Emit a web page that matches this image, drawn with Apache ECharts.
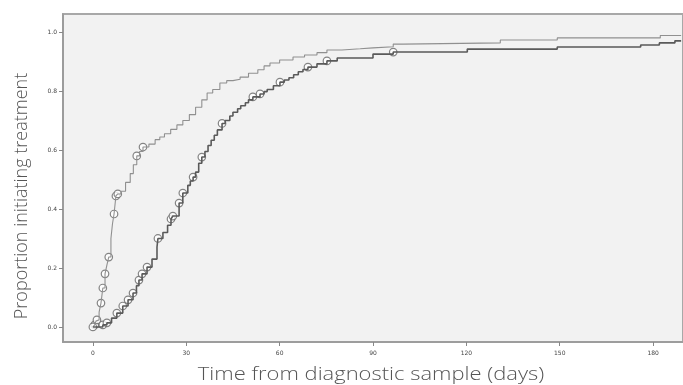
<!DOCTYPE html>
<html>
<head>
<meta charset="utf-8">
<script src="https://cdn.jsdelivr.net/npm/echarts@6/dist/echarts.min.js"></script>
<style>html,body{margin:0;padding:0;background:#fff}#c{width:683px;height:385px}</style>
</head>
<body>
<div id="c"></div>
<script>
// Tick labels
const xTicks = [0, 30, 60, 90, 120, 150, 180];
const yTicks = [0, 0.2, 0.4, 0.6, 0.8, 1.0];

// Upper (faster) curve: [day, proportion]
const fastCurve = [
  [0,0],[0.6,0.007],[1.0,0.02],[1.3,0.024],[2.0,0.05],[2.6,0.081],[3.2,0.132],[3.9,0.18],
  [4.5,0.21],[5.1,0.237],[5.8,0.30],[6.3,0.35],[6.8,0.383],[7.4,0.444],[8.0,0.451],[9.0,0.46],
  [10.5,0.49],[12,0.52],[13,0.55],[14.1,0.58],[15,0.595],[16.1,0.61],[18,0.62],[20,0.635],
  [21.5,0.644],[23,0.655],[25,0.67],[27,0.685],[28.9,0.70],[31,0.72],[33,0.745],[35,0.77],
  [36.7,0.793],[38.5,0.805],[40.8,0.827],[43,0.835],[45,0.84],[47.3,0.847],[50,0.86],
  [53,0.872],[55,0.885],[56.9,0.895],[60,0.905],[64.3,0.915],[68,0.922],[72,0.93],
  [75.2,0.939],[80,0.943],[85.9,0.946],[90,0.95],[96.5,0.959],[99.7,0.963],[130.9,0.973],
  [149.2,0.98],[182.3,0.988],[189,0.988]
];
// Lower (slower) curve
const slowCurve = [
  [0,0],[3.2,0.007],[4.5,0.014],[6,0.03],[7.7,0.047],[9.6,0.071],[11.3,0.092],[12.9,0.115],
  [14,0.14],[14.8,0.159],[15.8,0.18],[17.4,0.203],[19,0.23],[20.6,0.271],[20.9,0.30],
  [22.5,0.32],[24,0.345],[25.1,0.366],[25.7,0.376],[27.7,0.42],[28.9,0.454],[30.5,0.48],
  [31.3,0.495],[32.2,0.508],[33,0.525],[34,0.555],[35,0.576],[36,0.595],[37,0.615],
  [38,0.633],[39,0.65],[40,0.668],[41.5,0.69],[42.5,0.70],[44,0.715],[45,0.728],
  [46.5,0.74],[47.5,0.75],[49,0.76],[50,0.77],[51.4,0.78],[53.7,0.79],[55,0.798],[56,0.805],
  [58,0.818],[60.1,0.83],[61.5,0.837],[63,0.845],[64.5,0.855],[66,0.865],[67.5,0.873],
  [69.1,0.881],[72,0.892],[75.2,0.902],[78.5,0.912],[90,0.925],
  [96.5,0.932],[120.3,0.942],[149.2,0.949],[176,0.956],[182,0.963],[187,0.97],[189,0.97]
];
// Censoring marks
const fastCensor = [
  [0.6,0.007],[1.3,0.024],[2.6,0.081],[3.2,0.132],[3.9,0.18],[5.1,0.237],[6.8,0.383],
  [7.4,0.444],[8.0,0.451],[14.1,0.58],[16.1,0.61]
];
const slowCensor = [
  [0,0],[3.2,0.007],[4.5,0.014],[7.7,0.047],[9.6,0.071],[11.3,0.092],[12.9,0.115],
  [14.8,0.159],[15.8,0.18],[17.4,0.203],[20.9,0.30],[25.1,0.366],[25.7,0.376],[27.7,0.42],
  [28.9,0.454],[32.2,0.508],[35,0.576],[41.5,0.69],[51.4,0.78],[53.7,0.79],[60.1,0.83],
  [69.1,0.881],[75.2,0.902],[96.5,0.932]
];

const chart = echarts.init(document.getElementById('c'), null, {renderer:'canvas'});
const markerStyle = {color:'#fff', borderColor:'#666', borderWidth:1.2};
chart.setOption({
  animation:false,
  backgroundColor:'#fff',
  grid:{left:63, top:14, right:-4, bottom:43, show:true, backgroundColor:'#f2f2f2',
        borderColor:'#a8a8a8', borderWidth:2},
  xAxis:{type:'value', min:-9.6, max:189.6,
    splitLine:{show:false},
    axisLine:{show:true, onZero:false, lineStyle:{color:'#999', width:1.5}},
    axisTick:{show:true, length:4, lineStyle:{color:'#888'}, customValues:xTicks},
    axisLabel:{customValues:xTicks, fontSize:6, color:'#444', margin:8, fontFamily:'DejaVu Sans'}
  },
  yAxis:{type:'value', min:-0.051, max:1.061,
    splitLine:{show:false},
    axisLine:{show:true, onZero:false, lineStyle:{color:'#999', width:1.5}},
    axisTick:{show:true, length:4, lineStyle:{color:'#888'}, customValues:yTicks},
    axisLabel:{customValues:yTicks, fontSize:6, color:'#444', margin:6, fontFamily:'DejaVu Sans',
      formatter:v=>v.toFixed(1)}
  },
  series:[
    {type:'line', data:fastCurve, step:'end', symbol:'none', lineStyle:{color:'#909090', width:1.1}},
    {type:'line', data:slowCurve, step:'end', symbol:'none', lineStyle:{color:'#5a5a5a', width:1.6}},
    {type:'scatter', data:fastCensor, symbol:'circle', symbolSize:7.5, itemStyle:markerStyle},
    {type:'scatter', data:slowCensor, symbol:'circle', symbolSize:7.5, itemStyle:markerStyle}
  ],
  graphic:[
    {type:'text', x:22, y:196, rotation:Math.PI/2,
      style:{text:'Proportion initiating treatment', font:'300 18px "Open Sans"', fill:'#555',
        textAlign:'center', textVerticalAlign:'middle'}},
    {type:'text', x:371, y:375, scaleX:1.22,
      style:{text:'Time from diagnostic sample (days)', font:'300 18px "Open Sans"', fill:'#555',
        textAlign:'center', textVerticalAlign:'middle'}}
  ]
});
</script>
</body>
</html>
